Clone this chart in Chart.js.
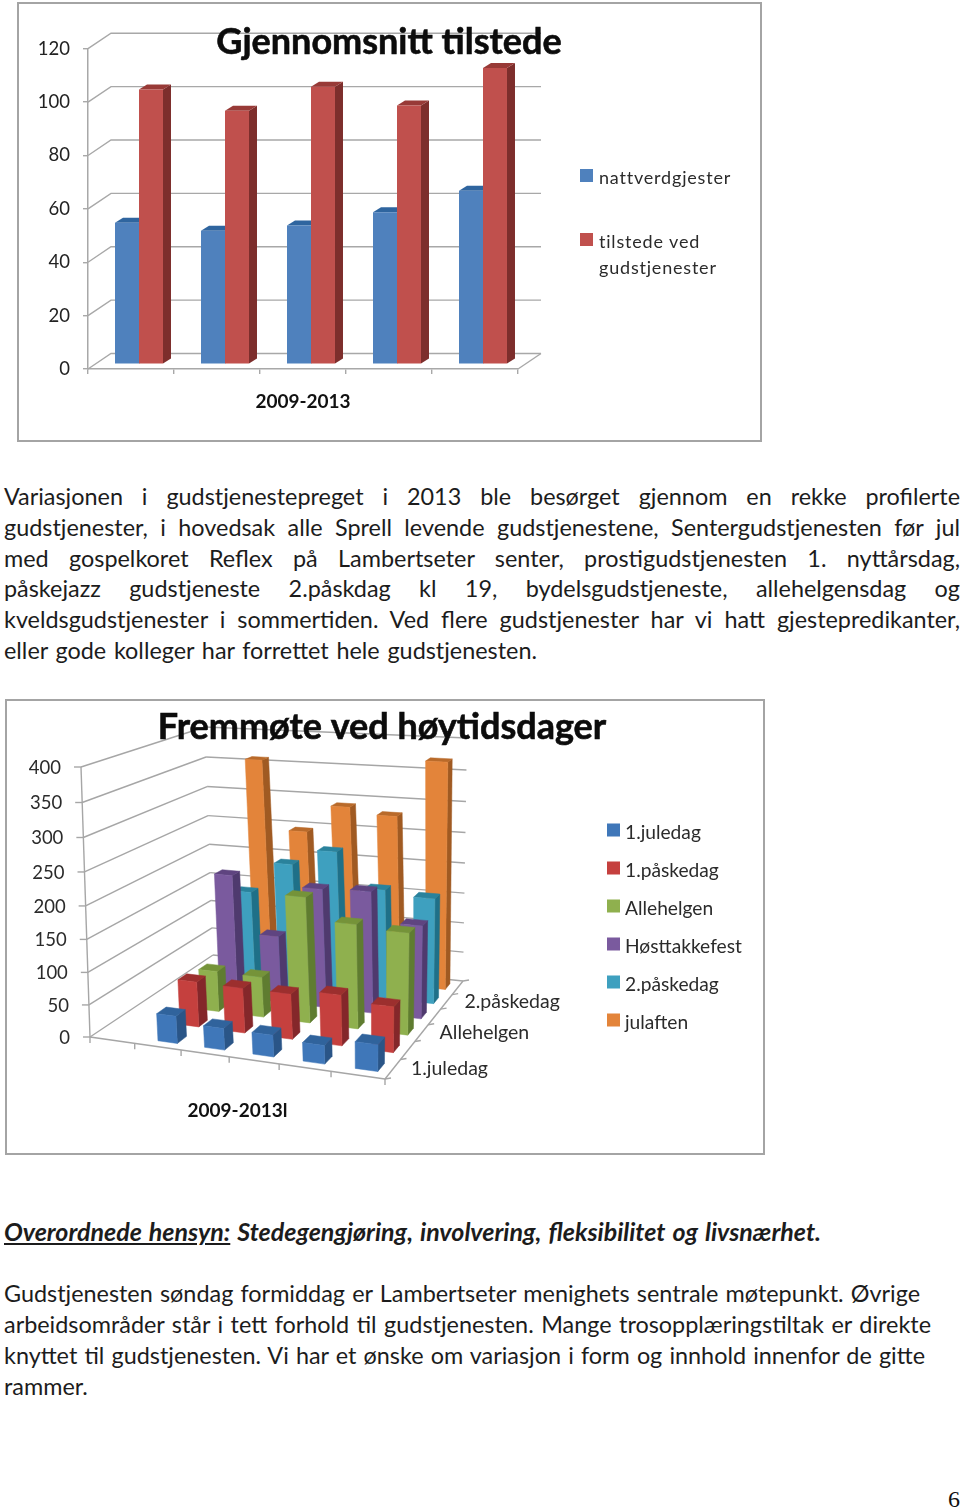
<!DOCTYPE html>
<html>
<head>
<meta charset="utf-8">
<title>Gudstjenester</title>
<script src="https://cdn.jsdelivr.net/npm/chart.js@4"></script>
<style>
  html, body { margin: 0; padding: 0; background: #fff; }
  body { position: relative; width: 960px; height: 1511px; overflow: hidden; font-family: Lato, sans-serif; color: #1c1c1c; }
  .frame { position: absolute; box-sizing: border-box; border: 2px solid #a4a4a4; }
  .frame canvas { display: block; }
  .line { position: absolute; left: 4px; height: 30px; line-height: 30px; font-size: 23.4px; white-space: pre-line; text-align: justify; text-align-last: justify; }
  .head { font-weight: 700; font-style: italic; font-size: 25px; }
  .page { position: absolute; right: 0; top: 1486px; font: 24px "Liberation Serif", serif; color: #111; }
</style>
</head>
<body>
<div class="frame" style="left:17px;top:2px;width:745px;height:440px"><canvas id="avgChart" width="741" height="436"></canvas></div>
<div class="frame" style="left:5px;top:699px;width:760px;height:456px"><canvas id="holidayChart" width="756" height="452"></canvas></div>
<div id="text"></div>
<div class="page">6</div>

<script>
// first chart
const years = ['2009', '2010', '2011', '2012', '2013'];
const nattverdgjester = [53, 50, 52, 57, 65];
const tilstede = [103, 95, 104, 97, 111];

// second chart, first slot on the axis is empty in the original
const holidayYears = ['', '2009', '2010', '2011', '2012', '2013'];
const juledag1 = [null, 42, 33, 33, 28, 40];
const paskedag1 = [null, 71, 70, 70, 78, 70];
const allehelgen = [null, 65, 64, 197, 163, 158];
const hosttakke = [null, 200, 108, 191, 194, 148];
const paskedag2 = [null, 155, 207, 233, 178, 171];
const julaften = [null, 358, 245, 290, 280, 370];
const depthTicks = ['1.juledag', 'Allehelgen', '2.påskedag'];

const paragraph = [
  'Variasjonen i gudstjenestepreget i 2013 ble besørget gjennom en rekke profilerte',
  'gudstjenester, i hovedsak alle Sprell levende gudstjenestene, Sentergudstjenesten før jul',
  'med gospelkoret Reflex på Lambertseter senter, prostigudstjenesten 1. nyttårsdag,',
  'påskejazz gudstjeneste 2.påskdag kl 19, bydelsgudstjeneste, allehelgensdag og',
  'kveldsgudstjenester i sommertiden. Ved flere gudstjenester har vi hatt gjestepredikanter,',
  'eller gode kolleger har forrettet hele gudstjenesten.'
];
const closing = [
  'Gudstjenesten søndag formiddag er Lambertseter menighets sentrale møtepunkt. Øvrige',
  'arbeidsområder står i tett forhold til gudstjenesten. Mange trosopplæringstiltak er direkte',
  'knyttet til gudstjenesten.  Vi har et ønske om variasjon i form og innhold innenfor de gitte',
  'rammer.'
];

function addLine(html, top, width, cls) {
  const d = document.createElement('div');
  d.className = 'line ' + (cls || '');
  d.style.top = top + 'px';
  d.style.width = width + 'px';
  d.innerHTML = html;
  document.getElementById('text').appendChild(d);
}
paragraph.forEach((t, i) => addLine(t, 481 + i * 30.8, i == 5 ? 533 : 956));
addLine('<u>Overordnede hensyn:</u> Stedegengjøring, involvering, fleksibilitet og livsnærhet.', 1216, 817, 'head');
const closingWidths = [916, 927, 921, 88];
closing.forEach((t, i) => addLine(t, 1278 + i * 31, closingWidths[i]));

// title and legend, same for both charts
const chartText = {
  id: 'chartText',
  afterDraw(chart, args, opts) {
    const ctx = chart.ctx;
    ctx.save();
    ctx.fillStyle = '#0c0c0c';
    ctx.strokeStyle = '#0c0c0c';
    ctx.lineWidth = 0.6;
    ctx.font = opts.titleFont;
    ctx.textAlign = 'center';
    ctx.textBaseline = 'middle';
    ctx.fillText(opts.title, opts.titleX, opts.titleY);
    ctx.strokeText(opts.title, opts.titleX, opts.titleY);
    ctx.textAlign = 'left';
    ctx.font = opts.legendFont;
    ctx.letterSpacing = opts.legendSpacing;
    let y = opts.legendY;
    chart.data.datasets.forEach(ds => {
      ctx.fillStyle = ds.backgroundColor;
      ctx.fillRect(opts.legendX, y - 7, 13, 13);
      ctx.fillStyle = '#2b2b2b';
      // wrap long names like the original
      let line = '', lines = [];
      ds.label.split(' ').forEach(w => {
        const next = line ? line + ' ' + w : w;
        if (line && ctx.measureText(next).width > opts.legendWrap) { lines.push(line); line = w; }
        else line = next;
      });
      lines.push(line);
      lines.forEach((l, i) => ctx.fillText(l, opts.legendX + opts.legendGap, y + 2 + i * 26));
      y += opts.legendStep;
    });
    ctx.restore();
  }
};

// first chart: plain cartesian bars with walls and bar sides added
const WALL = { dx: 23, dy: -15.5 };
const BAR = { dx: 8, dy: -5, shiftX: 8, shiftY: -4.7 };

const wall3d = {
  id: 'wall3d',
  afterDatasetsUpdate(chart) {
    chart.data.datasets.forEach((ds, i) => {
      chart.getDatasetMeta(i).data.forEach(el => {
        el.x += BAR.shiftX;
        el.y += BAR.shiftY;
        el.base += BAR.shiftY;
      });
    });
  },
  beforeDatasetsDraw(chart) {
    const { ctx, chartArea: a, scales: { y } } = chart;
    ctx.save();
    ctx.strokeStyle = '#a8a8a8';
    ctx.lineWidth = 1.4;
    y.ticks.forEach(t => {
      const py = y.getPixelForValue(t.value);
      ctx.beginPath();
      ctx.moveTo(a.left, py);
      ctx.lineTo(a.left + WALL.dx, py + WALL.dy);
      ctx.lineTo(a.right + WALL.dx, py + WALL.dy);
      ctx.stroke();
    });
    ctx.beginPath();
    ctx.moveTo(a.right, a.bottom);
    ctx.lineTo(a.right + WALL.dx, a.bottom + WALL.dy);
    ctx.stroke();
    // sides and tops go first, the library then draws the fronts over them
    chart.data.datasets.forEach((ds, i) => {
      chart.getDatasetMeta(i).data.forEach(el => {
        const l = el.x - el.width / 2, r = el.x + el.width / 2;
        ctx.fillStyle = ds.sideColor;
        ctx.beginPath();
        ctx.moveTo(r, el.y);
        ctx.lineTo(r + BAR.dx, el.y + BAR.dy);
        ctx.lineTo(r + BAR.dx, el.base + BAR.dy);
        ctx.lineTo(r, el.base);
        ctx.fill();
        ctx.fillStyle = ds.topColor;
        ctx.beginPath();
        ctx.moveTo(l, el.y);
        ctx.lineTo(l + BAR.dx, el.y + BAR.dy);
        ctx.lineTo(r + BAR.dx, el.y + BAR.dy);
        ctx.lineTo(r, el.y);
        ctx.fill();
      });
    });
    ctx.restore();
  }
};

new Chart(document.getElementById('avgChart'), {
  type: 'bar',
  data: {
    labels: years,
    datasets: [
      { label: 'nattverdgjester', data: nattverdgjester, backgroundColor: '#4f81bd', sideColor: '#31608f', topColor: '#2f659f' },
      { label: 'tilstede ved gudstjenester', data: tilstede, backgroundColor: '#c0504d', sideColor: '#7d2e2c', topColor: '#983a37' }
    ]
  },
  options: {
    responsive: false,
    animation: false,
    events: [],
    layout: { padding: { top: 44.7, right: 242 } },
    categoryPercentage: 0.558,
    barPercentage: 1,
    scales: {
      x: {
        afterFit: s => { s.height = 71; },
        ticks: { display: false },
        border: { color: '#a8a8a8', width: 1.5 },
        grid: { drawOnChartArea: false, tickLength: 5, color: '#a8a8a8', lineWidth: 1.4 },
        title: { display: true, text: '2009-2013', color: '#111', padding: { top: 0, bottom: 27 }, font: { family: 'Lato', size: 19, weight: 'bold' } }
      },
      y: {
        min: 0, max: 120,
        afterFit: s => { s.width = 69; },
        ticks: { stepSize: 20, padding: 13, color: '#222', font: { family: 'Lato', size: 18.5 } },
        border: { color: '#a8a8a8', width: 1.5 },
        grid: { drawOnChartArea: false, tickLength: 5, color: '#a8a8a8', lineWidth: 1.4 }
      }
    },
    plugins: {
      legend: { display: false },
      tooltip: { enabled: false },
      chartText: {
        title: 'Gjennomsnitt tilstede', titleX: 370, titleY: 38, titleFont: 'bold 36px Lato',
        legendX: 561, legendY: 172, legendStep: 64, legendGap: 19, legendWrap: 125,
        legendFont: '18px Lato', legendSpacing: '0.8px'
      }
    }
  },
  plugins: [wall3d, chartText]
});

// second chart: the scales give u, h and the row, the corners below place them on the page
const FLOOR = [[83, 336], [378, 378], [456, 280], [206, 254]];     // front left, front right, back right, back left
const CEILING = [[74, 66], [383, 93], [460, 37], [198, 26]];       // same corners at the top of the scale
const ROW_DEPTH = 0.42;
const BAR_NUDGE = 0.012;
const HEIGHT_PERSPECTIVE = 1.06;

function homography(q) {
  const [[x0, y0], [x1, y1], [x2, y2], [x3, y3]] = q;
  const dx1 = x1 - x2, dx2 = x3 - x2, sx = x0 - x1 + x2 - x3;
  const dy1 = y1 - y2, dy2 = y3 - y2, sy = y0 - y1 + y2 - y3;
  const den = dx1 * dy2 - dx2 * dy1;
  const g = (sx * dy2 - dx2 * sy) / den, h = (dx1 * sy - sx * dy1) / den;
  const a = x1 - x0 + g * x1, b = x3 - x0 + h * x3;
  const d = y1 - y0 + g * y1, e = y3 - y0 + h * y3;
  return (u, v) => {
    const w = g * u + h * v + 1;
    return [(a * u + b * v + x0) / w, (d * u + e * v + y0) / w];
  };
}
const floorAt = homography(FLOOR);
const ceilAt = homography(CEILING);
function project(u, v, h) {
  const f = floorAt(u, v), c = ceilAt(u, v);
  const t = h / (h + (1 - h) * HEIGHT_PERSPECTIVE);
  return [f[0] + (c[0] - f[0]) * t, f[1] + (c[1] - f[1]) * t];
}
function poly(ctx, pts, color) {
  ctx.fillStyle = color;
  ctx.strokeStyle = color;
  ctx.lineWidth = 0.5;
  ctx.beginPath();
  pts.forEach((p, i) => i ? ctx.lineTo(p[0], p[1]) : ctx.moveTo(p[0], p[1]));
  ctx.closePath();
  ctx.fill();
  ctx.stroke();
}
function segment(ctx, a, b) {
  ctx.beginPath();
  ctx.moveTo(a[0], a[1]);
  ctx.lineTo(b[0], b[1]);
  ctx.stroke();
}

const perspective = {
  id: 'perspective',
  beforeDatasetsDraw(chart) {
    const { ctx, chartArea: a, scales: { x, y } } = chart;
    const rows = chart.data.datasets.length;
    const cols = chart.data.labels.length;
    ctx.save();
    // walls and axes
    ctx.strokeStyle = '#a6a6a6';
    ctx.lineWidth = 1.4;
    y.ticks.forEach(t => {
      const h = t.value / y.max;
      segment(ctx, project(0, 0, h), project(0, 1, h));
      segment(ctx, project(0, 1, h), project(1, 1, h));
      const s = project(0, 0, h);
      segment(ctx, [s[0] - 7, s[1]], s);
      ctx.fillStyle = '#2b2b2b';
      ctx.font = '18.5px Lato';
      ctx.textAlign = 'right';
      ctx.textBaseline = 'middle';
      ctx.fillText(t.label, s[0] - 20, s[1] + 1);
    });
    segment(ctx, project(0, 0, 0), project(0, 0, 1));
    segment(ctx, project(0, 0, 0), project(1, 0, 0));
    segment(ctx, project(1, 0, 0), project(1, 1, 0));
    for (let i = 0; i <= cols; i++) {
      const s = project(i / cols, 0, 0);
      segment(ctx, s, [s[0], s[1] + 6]);
    }
    for (let i = 0; i <= rows; i++) {
      const s = project(1, i / rows, 0);
      segment(ctx, s, [s[0] + 6, s[1] - 1]);
    }
    // only every other row is named on the depth axis
    ctx.fillStyle = '#2b2b2b';
    ctx.font = '19.5px Lato';
    ctx.textAlign = 'left';
    depthTicks.forEach((label, i) => {
      const s = project(1, (i * 2 + 0.5) / rows, 0);
      ctx.fillText(label, s[0] + 18, s[1]);
    });
    // bars, back row first
    for (let r = rows - 1; r >= 0; r--) {
      const ds = chart.data.datasets[r];
      const v0 = (r + 0.5 - ROW_DEPTH / 2) / rows, v1 = (r + 0.5 + ROW_DEPTH / 2) / rows;
      chart.getDatasetMeta(r).data.forEach((el, i) => {
        if (ds.data[i] == null) return;
        const u0 = (el.x - el.width / 2 - a.left) / a.width + BAR_NUDGE;
        const u1 = (el.x + el.width / 2 - a.left) / a.width + BAR_NUDGE;
        const h = (el.base - el.y) / a.height;
        poly(ctx, [project(u1, v0, 0), project(u1, v1, 0), project(u1, v1, h), project(u1, v0, h)], ds.sideColor);
        poly(ctx, [project(u0, v0, h), project(u1, v0, h), project(u1, v1, h), project(u0, v1, h)], ds.topColor);
        poly(ctx, [project(u0, v0, 0), project(u1, v0, 0), project(u1, v0, h), project(u0, v0, h)], ds.backgroundColor);
      });
    }
    ctx.restore();
    return false;
  }
};

new Chart(document.getElementById('holidayChart'), {
  type: 'bar',
  data: {
    labels: holidayYears,
    datasets: [
      { label: '1.juledag', data: juledag1, backgroundColor: '#3f77b9', sideColor: '#2a5587', topColor: '#30639c' },
      { label: '1.påskedag', data: paskedag1, backgroundColor: '#c5403e', sideColor: '#84272a', topColor: '#9c2f2e' },
      { label: 'Allehelgen', data: allehelgen, backgroundColor: '#8fb04e', sideColor: '#5f7c30', topColor: '#759339' },
      { label: 'Høsttakkefest', data: hosttakke, backgroundColor: '#7a5a9e', sideColor: '#4f3a6e', topColor: '#5f4480' },
      { label: '2.påskedag', data: paskedag2, backgroundColor: '#3ea0bf', sideColor: '#1f7088', topColor: '#2a829c' },
      { label: 'julaften', data: julaften, backgroundColor: '#e3843a', sideColor: '#a05a22', topColor: '#b96a2a' }
    ]
  },
  options: {
    responsive: false,
    animation: false,
    events: [],
    layout: { padding: { top: 66, right: 378 } },
    datasets: { bar: { grouped: false, categoryPercentage: 1, barPercentage: 0.42 } },
    scales: {
      x: {
        afterFit: s => { s.height = 116; },
        ticks: { display: false },
        border: { display: false },
        grid: { display: false },
        title: { display: true, text: '2009-2013l', color: '#111', padding: { top: 0, bottom: 31 }, font: { family: 'Lato', size: 19, weight: 'bold' } }
      },
      y: {
        min: 0, max: 400,
        afterFit: s => { s.width = 83; },
        ticks: { stepSize: 50, display: false },
        border: { display: false },
        grid: { display: false }
      }
    },
    plugins: {
      legend: { display: false },
      tooltip: { enabled: false },
      chartText: {
        title: 'Fremmøte ved høytidsdager', titleX: 375, titleY: 26, titleFont: 'bold 36px Lato',
        legendX: 600, legendY: 129.5, legendStep: 38, legendGap: 18, legendWrap: 200,
        legendFont: '19.2px Lato', legendSpacing: '0px'
      }
    }
  },
  plugins: [perspective, chartText]
});
</script>
</body>
</html>
